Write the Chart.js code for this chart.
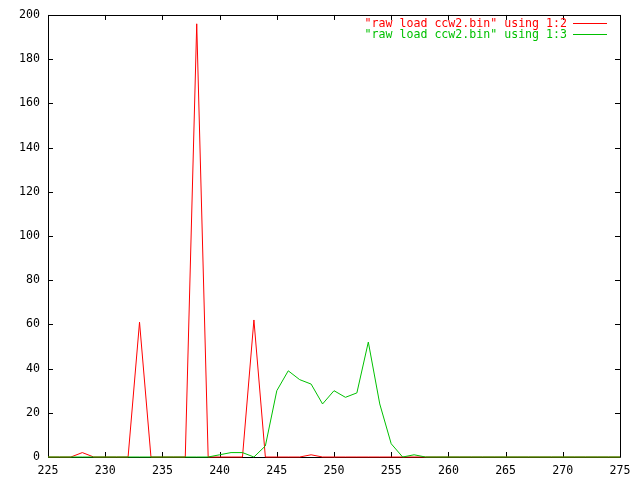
<!DOCTYPE html>
<html lang="en">
<head>
    <meta charset="UTF-8">
    <title>raw load ccw2.bin</title>
    <script src="https://cdn.jsdelivr.net/npm/chart.js"></script>
    <style>
        body { margin: 0; padding: 0; background-color: white; }
        .chart-box { width: 640px; height: 480px; }
    </style>
</head>
<body>
    <div class="chart-box">
        <canvas id="loadChart" width="640" height="480"></canvas>
    </div>

    <script>
        const xValues = [225, 226, 227, 228, 229, 230, 231, 232, 233, 234,
                         235, 236, 237, 238, 239, 240, 241, 242, 243, 244,
                         245, 246, 247, 248, 249, 250, 251, 252, 253, 254,
                         255, 256, 257, 258, 259, 260, 261, 262, 263, 264,
                         265, 266, 267, 268, 269, 270, 271, 272, 273, 274, 275];
        const col2Values = [0, 0, 0, 2, 0, 0, 0, 0, 61, 0,
                            0, 0, 0, 196, 0, 0, 0, 0, 62, 0,
                            0, 0, 0, 1, 0, 0, 0, 0, 0, 0,
                            0, 0, 0, 0, 0, 0, 0, 0, 0, 0,
                            0, 0, 0, 0, 0, 0, 0, 0, 0, 0, 0];
        const col3Values = [0, 0, 0, 0, 0, 0, 0, 0, 0, 0,
                            0, 0, 0, 0, 0, 1, 2, 2, 0, 5,
                            30, 39, 35, 33, 24, 30, 27, 29, 52, 24,
                            6, 0, 1, 0, 0, 0, 0, 0, 0, 0,
                            0, 0, 0, 0, 0, 0, 0, 0, 0, 0, 0];
        const seriesLabels = ['"raw load ccw2.bin" using 1:2', '"raw load ccw2.bin" using 1:3'];
        const seriesColors = ['rgb(255,0,0)', 'rgb(0,192,0)'];

        const FONT = '11.6px "DejaVu Sans Mono", monospace';

        function toPoints(values) {
            return xValues.map((x, i) => ({ x: x, y: values[i] }));
        }

        // gnuplot style box with inward ticks on all four sides
        const frame = {
            id: 'frame',
            beforeDatasetsDraw(chart) {
                const ctx = chart.ctx;
                const a = chart.chartArea;
                const xs = chart.scales.x, ys = chart.scales.y;
                const len = 5;
                ctx.save();
                ctx.strokeStyle = '#000';
                ctx.lineWidth = 1;
                ctx.beginPath();
                ctx.rect(Math.round(a.left) + 0.5, Math.round(a.top) + 0.5,
                         Math.round(a.right - a.left), Math.round(a.bottom - a.top));
                xs.ticks.forEach((t, i) => {
                    const px = Math.round(xs.getPixelForTick(i)) + 0.5;
                    ctx.moveTo(px, a.bottom); ctx.lineTo(px, a.bottom - len);
                    ctx.moveTo(px, a.top); ctx.lineTo(px, a.top + len);
                });
                ys.ticks.forEach((t, i) => {
                    const py = Math.round(ys.getPixelForTick(i)) + 0.5;
                    ctx.moveTo(a.left, py); ctx.lineTo(a.left + len, py);
                    ctx.moveTo(a.right, py); ctx.lineTo(a.right - len, py);
                });
                ctx.stroke();
                ctx.restore();
            },
            afterDatasetsDraw(chart) {
                const ctx = chart.ctx;
                ctx.save();
                ctx.font = FONT;
                ctx.textAlign = 'right';
                ctx.textBaseline = 'middle';
                seriesLabels.forEach((label, i) => {
                    const y = 24 + i * 11;
                    ctx.fillStyle = seriesColors[i];
                    ctx.fillText(label, 567, y);
                    ctx.strokeStyle = seriesColors[i];
                    ctx.lineWidth = 1;
                    ctx.beginPath();
                    ctx.moveTo(573, y - 0.5);
                    ctx.lineTo(607, y - 0.5);
                    ctx.stroke();
                });
                ctx.restore();
            }
        };

        const ctx = document.getElementById('loadChart').getContext('2d');
        const chart = new Chart(ctx, {
            type: 'line',
            data: {
                datasets: [{
                    label: seriesLabels[0],
                    data: toPoints(col2Values),
                    borderColor: seriesColors[0],
                    borderWidth: 1,
                    pointRadius: 0,
                    tension: 0,
                    clip: false,
                    order: 1
                }, {
                    label: seriesLabels[1],
                    data: toPoints(col3Values),
                    borderColor: seriesColors[1],
                    borderWidth: 1,
                    pointRadius: 0,
                    tension: 0,
                    clip: false,
                    order: 0
                }]
            },
            options: {
                responsive: false,
                animation: false,
                layout: { padding: { left: 0, right: 20, top: 14, bottom: 0 } },
                plugins: {
                    legend: { display: false },
                    tooltip: { enabled: false },
                    title: { display: false }
                },
                scales: {
                    x: {
                        type: 'linear',
                        min: 225,
                        max: 275,
                        grid: { display: false, drawTicks: false },
                        border: { display: false },
                        ticks: { stepSize: 5, color: '#000', font: { family: '"DejaVu Sans Mono", monospace', size: 11.6 }, padding: 7, maxRotation: 0 },
                        afterFit: scale => { scale.height = 23; }
                    },
                    y: {
                        min: 0,
                        max: 200,
                        grid: { display: false, drawTicks: false },
                        border: { display: false },
                        ticks: { stepSize: 20, color: '#000', font: { family: '"DejaVu Sans Mono", monospace', size: 11.6 }, padding: 8 },
                        afterFit: scale => { scale.width = 48; }
                    }
                }
            },
            plugins: [frame]
        });
    </script>
</body>
</html>
